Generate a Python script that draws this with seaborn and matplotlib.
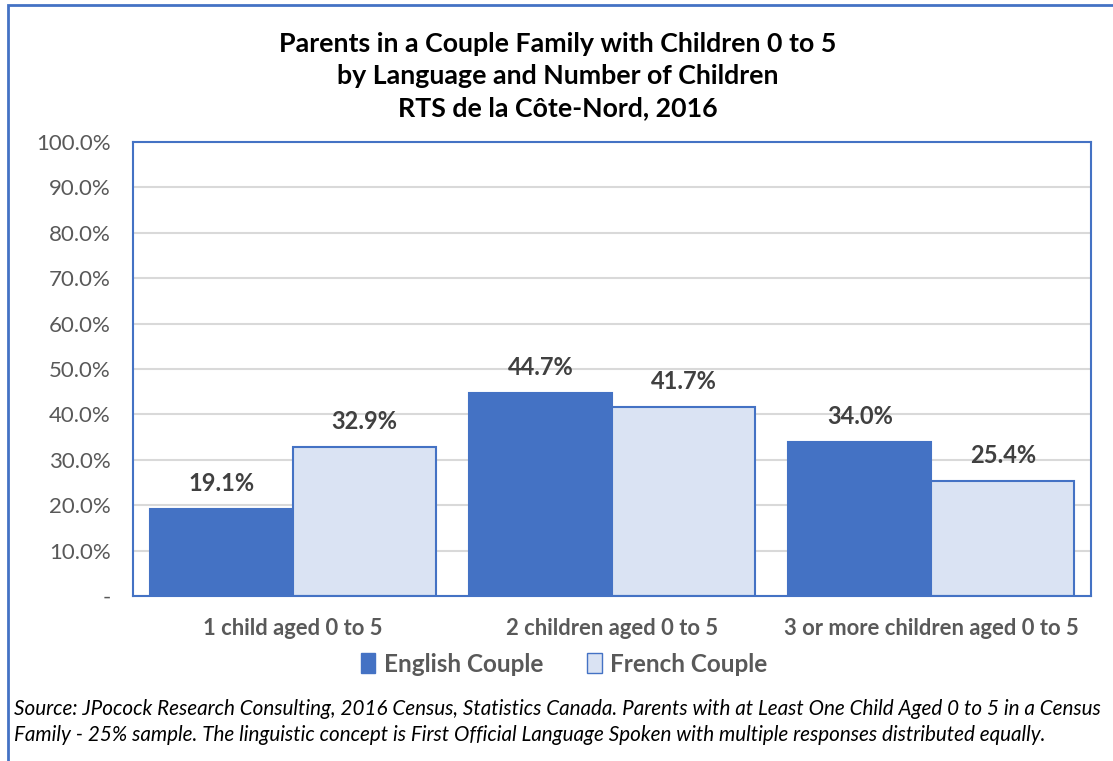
import matplotlib
matplotlib.use("Agg")
import matplotlib.pyplot as plt
import seaborn as sns
import pandas as pd
from matplotlib.patches import Rectangle, Patch
from matplotlib.ticker import FixedLocator

categories = ["1 child aged 0 to 5", "2 children aged 0 to 5", "3 or more children aged 0 to 5"]
english = [19.1, 44.7, 34.0]
french = [32.9, 41.7, 25.4]
series = ["English Couple", "French Couple"]
yticks = [0, 10, 20, 30, 40, 50, 60, 70, 80, 90, 100]
ytick_labels = ["-"] + [f"{v:.1f}%" for v in yticks[1:]]

title = "Parents in a Couple Family with Children 0 to 5\nby Language and Number of Children\nRTS de la Côte-Nord, 2016"
source = ("Source: JPocock Research Consulting, 2016 Census, Statistics Canada. Parents with at Least One Child Aged 0 to 5 in a Census\n"
          "Family - 25% sample. The linguistic concept is First Official Language Spoken with multiple responses distributed equally.")

df = pd.DataFrame({
    "category": categories * 2,
    "series": [series[0]] * 3 + [series[1]] * 3,
    "value": english + french,
})

sns.set_theme(style="white")
plt.rcParams["font.family"] = ["Lato", "DejaVu Sans"]

BLUE = "#4472C4"
LIGHT = "#DAE3F3"
GRAY = "#595959"

fig = plt.figure(figsize=(11.13, 7.61), dpi=100)
ax = fig.add_axes([133 / 1113, 1 - 596 / 761, (1091 - 133) / 1113, (596 - 142) / 761])

sns.barplot(data=df, x="category", y="value", hue="series", order=categories,
            hue_order=series, palette=[BLUE, LIGHT], saturation=1, width=0.895, gap=0,
            edgecolor=BLUE, linewidth=1.5, ax=ax, legend=False)

for cont in ax.containers:
    ax.bar_label(cont, labels=[f"{v:.1f}%" for v in cont.datavalues], padding=10,
                 fontsize=17, fontweight="bold", color="#404040")

ax.set_ylim(0, 100)
ax.set_xlim(-0.5, 2.5)
ax.yaxis.set_major_locator(FixedLocator(yticks))
ax.set_yticklabels(ytick_labels, fontsize=16, color=GRAY)
ax.set_xticks(range(len(categories)))
ax.set_xticklabels(categories, fontsize=15.8, fontweight="bold", color=GRAY)
ax.tick_params(axis="x", pad=16, length=0)
ax.tick_params(axis="y", pad=16, length=0)
ax.set_xlabel("")
ax.set_ylabel("")
ax.grid(axis="y", color="#D9D9D9", linewidth=1.5)
ax.set_axisbelow(True)
for s in ax.spines.values():
    s.set_visible(True)
    s.set_color(BLUE)
    s.set_linewidth(1.5)

handles = [Patch(facecolor=BLUE, edgecolor=BLUE, label=series[0]),
           Patch(facecolor=LIGHT, edgecolor=BLUE, label=series[1])]
leg = fig.legend(handles=handles, loc="center", bbox_to_anchor=(564 / 1113, 1 - 664 / 761),
                 ncol=2, frameon=False, handlelength=0.6, handleheight=0.9,
                 handletextpad=0.35, columnspacing=1.8,
                 prop={"size": 17.5, "weight": "bold"})
for t in leg.get_texts():
    t.set_color(GRAY)

fig.text(558 / 1113, 1 - 76 / 761, title, ha="center", va="center", fontsize=19.3,
         fontweight="bold", color="black", linespacing=1.42)

fig.text(14 / 1113, 1 - 722 / 761, source, ha="left", va="center", fontsize=14.9,
         style="italic", color="black", linespacing=1.42)

fig.patches.append(Rectangle((8 / 1113, -0.1), 1.2, 1 - 5 / 761 + 0.1, transform=fig.transFigure,
                             fill=False, edgecolor=BLUE, linewidth=2))

fig.savefig("out.png", dpi=100)
